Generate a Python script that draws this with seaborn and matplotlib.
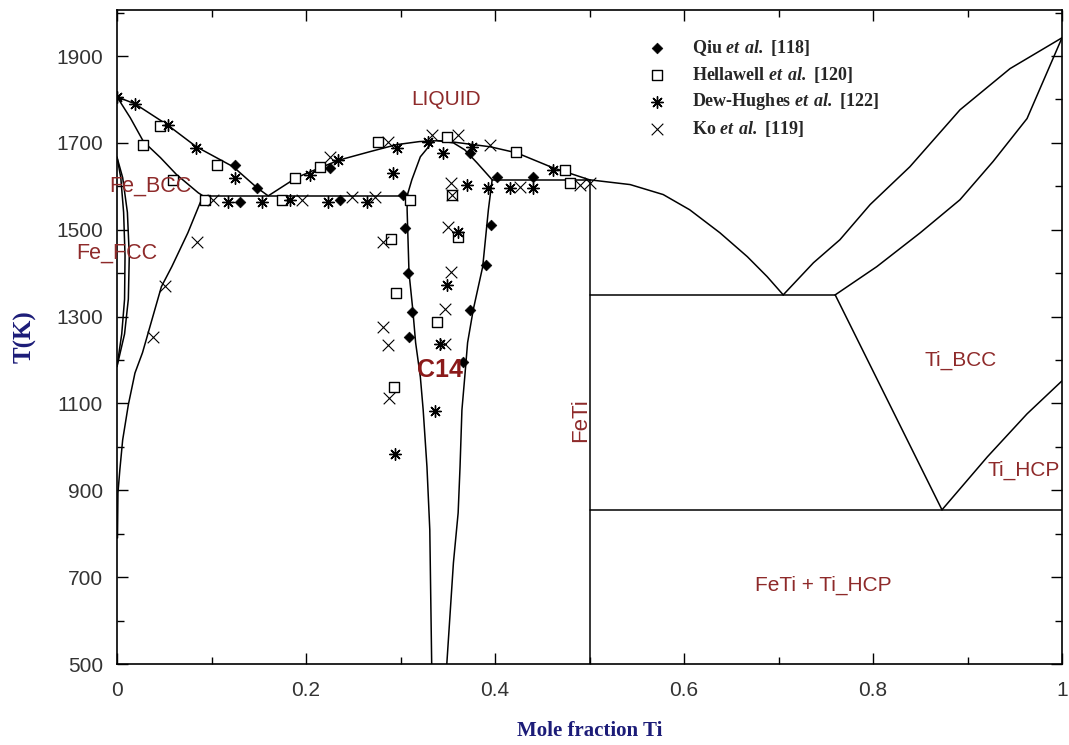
import matplotlib
matplotlib.use("Agg")
import matplotlib.pyplot as plt
import seaborn as sns
from matplotlib.ticker import MultipleLocator

sns.set_style("ticks")
plt.rcParams["font.family"] = ["Liberation Sans", "DejaVu Sans"]
plt.rcParams["mathtext.fontset"] = "custom"
plt.rcParams["mathtext.rm"] = "Liberation Serif:bold"
plt.rcParams["mathtext.bfit"] = "Liberation Serif:italic:bold"

# ---- phase boundaries (mole fraction Ti, T in K) ----
liq_x = [0.0, 0.019, 0.053, 0.084, 0.123, 0.148, 0.160, 0.165, 0.190, 0.215, 0.236, 0.268,
         0.296, 0.320, 0.340, 0.352, 0.395, 0.423, 0.461, 0.493, 0.500, 0.543, 0.578, 0.606,
         0.638, 0.667, 0.688, 0.705]
liq_T = [1806, 1790, 1742, 1691, 1645, 1597, 1578, 1585, 1620, 1643, 1661, 1680,
         1696, 1703, 1705, 1703, 1691, 1677, 1643, 1620, 1615, 1604, 1581, 1546,
         1493, 1438, 1392, 1350]

bcc_sol_x = [0.0, 0.014, 0.028, 0.046, 0.063, 0.086, 0.091]
bcc_sol_T = [1806, 1758, 1703, 1666, 1627, 1585, 1578]

bcc_solv_x = [0.091, 0.075, 0.058, 0.047, 0.037, 0.027, 0.019, 0.012, 0.006, 0.003, 0.001, 0.0005]
bcc_solv_T = [1578, 1493, 1415, 1369, 1293, 1217, 1170, 1097, 1016, 947, 894, 790]

loop_out_x = [0.0, 0.006, 0.011, 0.013, 0.012, 0.008, 0.0]
loop_out_T = [1667, 1620, 1540, 1440, 1340, 1260, 1185]
loop_in_x = [0.0, 0.004, 0.007, 0.0085, 0.008, 0.005, 0.0]
loop_in_T = [1667, 1620, 1540, 1440, 1340, 1260, 1185]

c14_left_x = [0.335, 0.321, 0.312, 0.307, 0.307, 0.309, 0.313, 0.316, 0.321, 0.324, 0.328, 0.331, 0.333]
c14_left_T = [1705, 1668, 1615, 1578, 1546, 1401, 1316, 1240, 1161, 1085, 954, 809, 500]
c14_right_x = [0.340, 0.356, 0.368, 0.381, 0.397, 0.393, 0.387, 0.377, 0.371, 0.368, 0.365,
               0.363, 0.361, 0.356, 0.349]
c14_right_T = [1705, 1700, 1684, 1654, 1615, 1546, 1415, 1316, 1240, 1161, 1085,
               954, 848, 733, 500]

ti_liq_x = [0.705, 0.737, 0.765, 0.797, 0.839, 0.892, 0.945, 1.0]
ti_liq_T = [1350, 1424, 1477, 1558, 1645, 1776, 1871, 1942]
ti_sol_x = [0.760, 0.804, 0.850, 0.892, 0.927, 0.963, 1.0]
ti_sol_T = [1350, 1415, 1493, 1569, 1657, 1756, 1942]
transus_x = [0.760, 0.873]
transus_T = [1350, 855]
hcp_x = [0.873, 0.921, 0.963, 1.0]
hcp_T = [855, 977, 1076, 1152]

# invariant lines and FeTi line
eut_fe_x, eut_fe_T = [0.091, 0.307], [1578, 1578]
eut_c14_x, eut_c14_T = [0.397, 0.500], [1615, 1615]
feti_x, feti_T = [0.5, 0.5], [500, 1615]
eut_ti_x, eut_ti_T = [0.5, 0.760], [1350, 1350]
eutd_x, eutd_T = [0.5, 1.0], [855, 855]

# ---- experimental points ----
qiu_x = [0.125, 0.148, 0.130, 0.236, 0.225, 0.303, 0.374, 0.402, 0.440,
         0.305, 0.308, 0.312, 0.309, 0.396, 0.390, 0.374, 0.366]
qiu_T = [1650, 1597, 1564, 1569, 1643, 1581, 1677, 1622, 1622,
         1505, 1401, 1311, 1253, 1511, 1419, 1316, 1195]

hel_x = [0.046, 0.0275, 0.106, 0.059, 0.093, 0.175, 0.188, 0.215, 0.276, 0.349, 0.422,
         0.474, 0.479, 0.310, 0.354, 0.361, 0.290, 0.295, 0.339, 0.293]
hel_T = [1740, 1696, 1650, 1615, 1569, 1569, 1620, 1645, 1703, 1714, 1680,
         1638, 1608, 1569, 1581, 1484, 1479, 1355, 1287, 1138]

dew_x = [0.0, 0.019, 0.054, 0.084, 0.125, 0.117, 0.153, 0.183, 0.204, 0.234, 0.223, 0.265,
         0.296, 0.292, 0.329, 0.345, 0.376, 0.461, 0.393, 0.416, 0.440, 0.370, 0.361,
         0.349, 0.342, 0.336, 0.294]
dew_T = [1806, 1790, 1742, 1689, 1620, 1564, 1564, 1569, 1627, 1661, 1564, 1564,
         1689, 1631, 1703, 1677, 1691, 1638, 1597, 1597, 1597, 1604, 1495,
         1373, 1238, 1083, 984]

ko_x = [0.102, 0.196, 0.249, 0.273, 0.287, 0.225, 0.333, 0.361, 0.395, 0.426, 0.490, 0.501,
        0.353, 0.354, 0.350, 0.281, 0.353, 0.347, 0.281, 0.287, 0.347, 0.288, 0.085,
        0.051, 0.038]
ko_T = [1569, 1569, 1576, 1576, 1703, 1668, 1719, 1719, 1696, 1599, 1604, 1608,
        1608, 1581, 1507, 1472, 1403, 1318, 1276, 1235, 1238, 1113, 1472,
        1371, 1253]

x_ticks = [0, 0.2, 0.4, 0.6, 0.8, 1.0]
x_ticklabels = ["0", "0.2", "0.4", "0.6", "0.8", "1"]
y_ticks = [500, 700, 900, 1100, 1300, 1500, 1700, 1900]

fig = plt.figure(figsize=(10.69, 7.45), dpi=100)
ax = fig.add_axes([117 / 1069, 81 / 745, 945 / 1069, 654 / 745])

curves = [(liq_x, liq_T), (bcc_sol_x, bcc_sol_T), (bcc_solv_x, bcc_solv_T),
          (loop_out_x, loop_out_T), (loop_in_x, loop_in_T),
          (c14_left_x, c14_left_T), (c14_right_x, c14_right_T),
          (ti_liq_x, ti_liq_T), (ti_sol_x, ti_sol_T), (transus_x, transus_T), (hcp_x, hcp_T),
          (eut_fe_x, eut_fe_T), (eut_c14_x, eut_c14_T), (feti_x, feti_T),
          (eut_ti_x, eut_ti_T), (eutd_x, eutd_T)]
for cx, cy in curves:
    sns.lineplot(x=cx, y=cy, sort=False, estimator=None, color="black", lw=1.1, ax=ax)

sns.scatterplot(x=qiu_x, y=qiu_T, marker="D", s=30, color="black", edgecolor="black",
                ax=ax, label=r"Qiu $\mathbfit{et\ al.}$ [118]", zorder=3)
sns.scatterplot(x=hel_x, y=hel_T, marker="s", s=48, facecolor="white", edgecolor="black",
                linewidth=1.0, ax=ax, label=r"Hellawell $\mathbfit{et\ al.}$ [120]", zorder=3)
sns.scatterplot(x=dew_x, y=dew_T, marker=(8, 2, 0), s=70, color="black", linewidth=1.0,
                ax=ax, label=r"Dew-Hughes $\mathbfit{et\ al.}$ [122]", zorder=3)
sns.scatterplot(x=ko_x, y=ko_T, marker="x", s=70, color="black", linewidth=0.8,
                ax=ax, label=r"Ko $\mathbfit{et\ al.}$ [119]", zorder=3)

leg = ax.legend(loc="upper left", bbox_to_anchor=(648 / 1069, (745 - 38) / 745),
                bbox_transform=fig.transFigure, frameon=False, borderpad=0, borderaxespad=0,
                handlelength=1.0, handletextpad=1.44, labelspacing=0.37,
                prop={"family": "Liberation Serif", "weight": "bold", "size": 13})

ax.set_xlim(0, 1)
ax.set_ylim(500, 2006)
ax.set_xticks(x_ticks)
ax.set_xticklabels(x_ticklabels)
ax.xaxis.set_minor_locator(MultipleLocator(0.1))
ax.set_yticks(y_ticks)
ax.yaxis.set_minor_locator(MultipleLocator(100))
ax.tick_params(which="both", direction="in", top=True, right=True, color="black",
               width=1.0, labelsize=15, labelcolor="#333333")
ax.tick_params(axis="x", which="major", pad=12)
ax.tick_params(axis="y", which="major", pad=10)
ax.tick_params(which="major", length=8)
ax.tick_params(which="minor", length=5)
for sp in ax.spines.values():
    sp.set_color("black")
    sp.set_linewidth(1.2)

navy = "#1c1c78"
ax.set_xlabel("Mole fraction Ti", labelpad=15, family="Liberation Serif", weight="bold",
              size=15, color=navy)
ax.set_ylabel("T(K)", labelpad=14, family="Liberation Serif", weight="bold",
              size=18, color=navy)

red = "#8e2a2a"
ax.text(0.348, 1799, "LIQUID", color=red, fontsize=15, ha="center", va="center")
ax.text(0.035, 1601, "Fe_BCC", color=red, fontsize=15.5, ha="center", va="center")
ax.text(0.0, 1445, "Fe_FCC", color=red, fontsize=15.5, ha="center", va="center")
ax.text(0.342, 1177, "C14", color="#8b1a1a", fontsize=18, weight="bold", ha="center", va="center")
ax.text(0.491, 1062, "FeTi", color=red, fontsize=16, rotation=90, ha="center", va="center")
ax.text(0.893, 1200, "Ti_BCC", color=red, fontsize=15, ha="center", va="center")
ax.text(0.959, 947, "Ti_HCP", color=red, fontsize=15, ha="center", va="center")
ax.text(0.747, 682, "FeTi + Ti_HCP", color=red, fontsize=15, ha="center", va="center")

fig.savefig("out.png", dpi=100)
